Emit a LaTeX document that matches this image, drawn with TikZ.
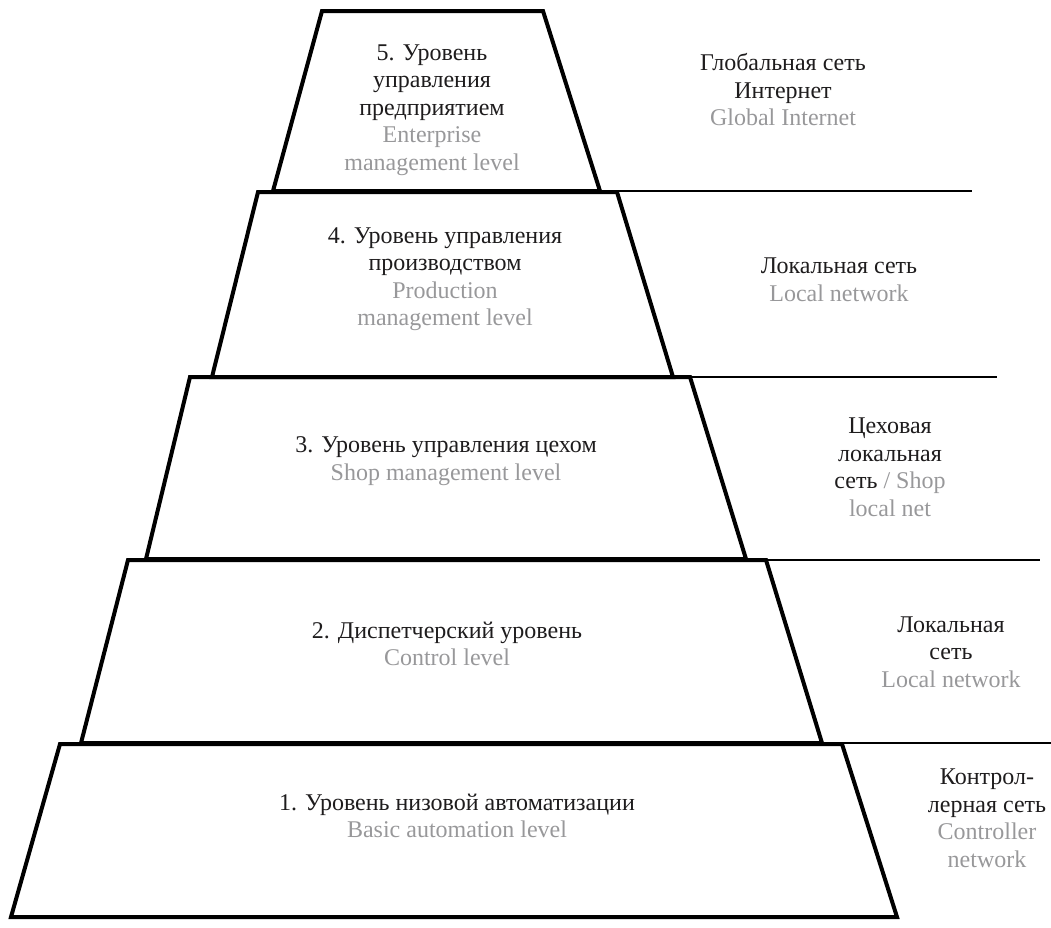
\documentclass[tikz,border=0pt]{standalone}
\usepackage{fontspec}
\setmainfont{Liberation Serif}
\definecolor{txt}{RGB}{30,28,29}
\definecolor{gr}{RGB}{152,152,154}
\begin{document}
\begin{tikzpicture}[x=1pt,y=-1pt,
  lvl/.style={draw=black,line width=4pt,line join=miter},
  sep/.style={draw=black,line width=1.6pt},
  lab/.style={align=center,font=\fontsize{24}{27.5}\selectfont,text=txt,inner sep=0pt},
]
\useasboundingbox (0,0) rectangle (1051,927);
% level 5
\coordinate (l5tl) at (322,11);  \coordinate (l5tr) at (543,11);
\coordinate (l5br) at (600,191); \coordinate (l5bl) at (273,191);
% level 4
\coordinate (l4tl) at (258,192); \coordinate (l4tr) at (617,192);
\coordinate (l4br) at (673,377); \coordinate (l4bl) at (212,377);
% level 3
\coordinate (l3tl) at (190,377); \coordinate (l3tr) at (690,377);
\coordinate (l3br) at (746,559); \coordinate (l3bl) at (146,559);
% level 2
\coordinate (l2tl) at (128,560); \coordinate (l2tr) at (766,560);
\coordinate (l2br) at (822,743); \coordinate (l2bl) at (81,743);
% level 1
\coordinate (l1tl) at (60,744);  \coordinate (l1tr) at (842,744);
\coordinate (l1br) at (897,917); \coordinate (l1bl) at (11,917);

\draw[lvl] (l5tl) -- (l5tr) -- (l5br) -- (l5bl) -- cycle;
\draw[lvl] (l4tl) -- (l4tr) -- (l4br) -- (l4bl) -- cycle;
\draw[lvl] (l3tl) -- (l3tr) -- (l3br) -- (l3bl) -- cycle;
\draw[lvl] (l2tl) -- (l2tr) -- (l2br) -- (l2bl) -- cycle;
\draw[lvl] (l1tl) -- (l1tr) -- (l1br) -- (l1bl) -- cycle;

% separators
\coordinate (s4) at (972,191);
\coordinate (s3) at (997,377);
\coordinate (s2) at (1040,560);
\coordinate (s1) at (1051,743);
\draw[sep] (l5br) -- (s4);
\draw[sep] (l3tr) -- (s3);
\draw[sep] (l2tr) -- (s2);
\draw[sep] (l1tr |- s1) -- (s1);

% level texts
\node[lab] (t5) at (432,110) {5. Уровень\\управления\\предприятием\\\textcolor{gr}{Enterprise}\\\textcolor{gr}{management level}};
\node[lab] (t4) at (445,279) {4. Уровень управления\\производством\\\textcolor{gr}{Production}\\\textcolor{gr}{management level}};
\node[lab] (t3) at (446,461) {3. Уровень управления цехом\\\textcolor{gr}{Shop management level}};
\node[lab] (t2) at (447,644) {2. Диспетчерский уровень\\\textcolor{gr}{Control level}};
\node[lab] (t1) at (457,816) {1. Уровень низовой автоматизации\\\textcolor{gr}{Basic automation level}};

% network texts
\node[lab] (n5) at (783,90) {Глобальная сеть\\Интернет\\\textcolor{gr}{Global Internet}};
\node[lab] (n4) at (839,280) {Локальная сеть\\\textcolor{gr}{Local network}};
\node[lab] (n3) at (890,467) {Цеховая\\локальная\\сеть \textcolor{gr}{/ Shop}\\\textcolor{gr}{local net}};
\node[lab] (n2) at (951,652) {Локальная\\сеть\\\textcolor{gr}{Local network}};
\node[lab] (n1) at (987,818) {Контрол-\\лерная сеть\\\textcolor{gr}{Controller}\\\textcolor{gr}{network}};
\end{tikzpicture}
\end{document}
